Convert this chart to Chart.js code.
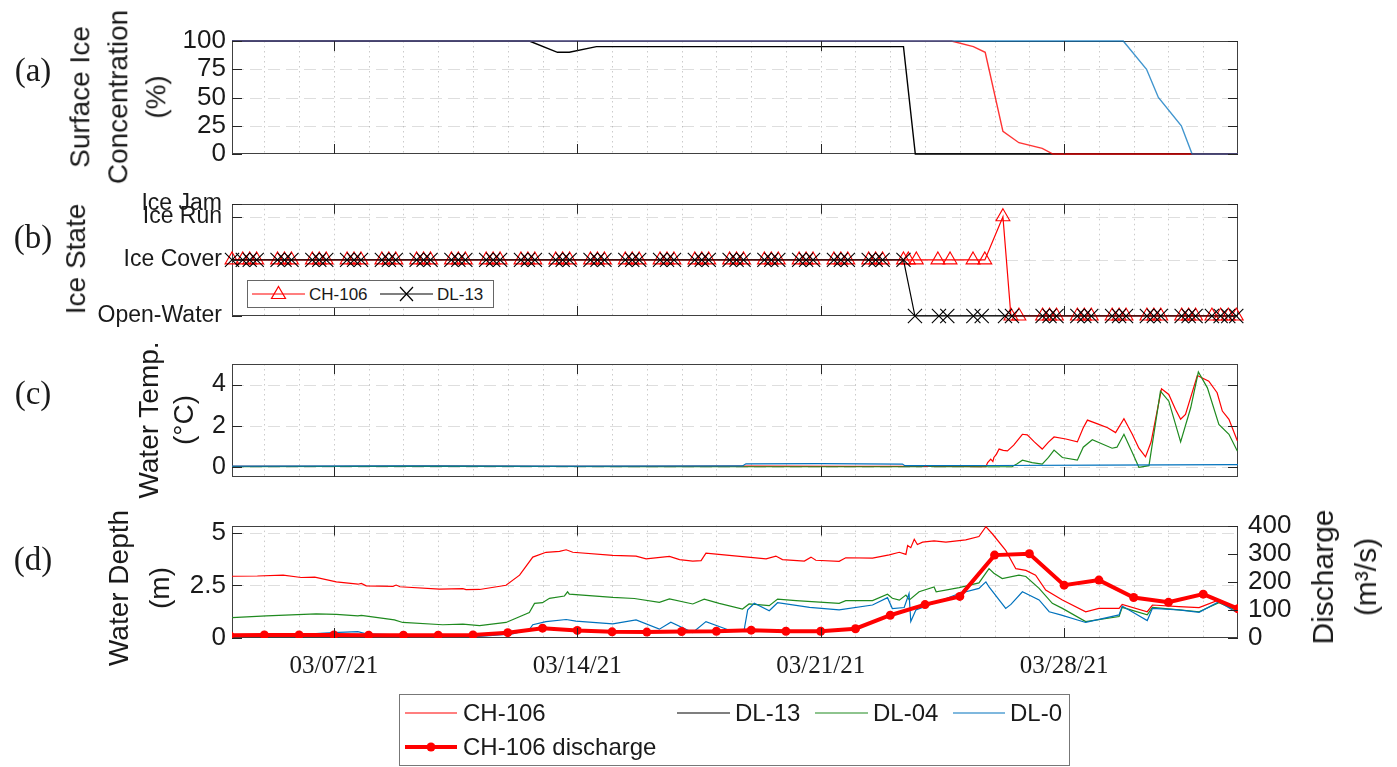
<!DOCTYPE html>
<html>
<head>
<meta charset="utf-8">
<script src="https://cdn.jsdelivr.net/npm/chart.js@4.4.1/dist/chart.umd.min.js"></script>
<style>
  html, body { margin: 0; padding: 0; background: #fff; }
  #wrap { position: relative; width: 1397px; height: 767px; overflow: hidden; background: #fff;
          font-family: 'Liberation Sans', Arial, Helvetica, sans-serif; color: #1a1a1a; }
  canvas { position: absolute; left: 0; }
  .t { position: absolute; white-space: nowrap; }
  .rot { transform: translate(-50%, -50%) rotate(-90deg); text-align: center; }
  .lab { font-family: 'Liberation Serif', 'Times New Roman', serif; font-size: 33px; transform: translate(-50%, -50%); }
  .lg { transform: translateY(-50%); line-height: 1; }
</style>
</head>
<body>
<div id="wrap">
  <canvas id="cA" width="1397" height="180" style="top:0px"></canvas>
  <canvas id="cB" width="1397" height="160" style="top:180px"></canvas>
  <canvas id="cC" width="1397" height="160" style="top:340px"></canvas>
  <canvas id="cD" width="1397" height="190" style="top:500px"></canvas>

  <!-- panel letters -->
  <div class="t lab" style="left:33px;top:70px">(a)</div>
  <div class="t lab" style="left:33px;top:237px">(b)</div>
  <div class="t lab" style="left:33px;top:393px">(c)</div>
  <div class="t lab" style="left:33px;top:559px">(d)</div>

  <!-- axis titles -->
  <div class="t rot" style="left:118px;top:97px;font-size:28px;line-height:37.8px">Surface Ice<br>Concentration<br>(%)</div>
  <div class="t rot" style="left:76px;top:259px;font-size:28px;line-height:37.8px">Ice State</div>
  <div class="t rot" style="left:166px;top:420px;font-size:28px;line-height:35px">Water Temp.<br>(°C)</div>
  <div class="t rot" style="left:139px;top:588px;font-size:28px;line-height:41px">Water Depth<br>(m)</div>
  <div class="t rot" style="left:1344px;top:577px;font-size:30px;line-height:43px">Discharge<br>(m³/s)</div>

  <!-- legend inside panel (b) -->
  <div style="position:absolute;left:247px;top:280px;width:247px;height:28px;box-sizing:border-box;border:1px solid #666;background:#fff"></div>
  <!-- bottom legend box -->
  <div style="position:absolute;left:399px;top:694px;width:671px;height:72px;box-sizing:border-box;border:1px solid #777;background:#fff"></div>

  <svg width="1397" height="767" style="position:absolute;left:0;top:0;pointer-events:none">
    <line x1="252" y1="294" x2="305" y2="294" stroke="#ff0000" stroke-width="1.2"/>
    <polygon points="278.5,286.5 285.5,298.5 271.5,298.5" fill="none" stroke="#ff0000" stroke-width="1.2"/>
    <line x1="380" y1="294" x2="433" y2="294" stroke="#000" stroke-width="1.2"/>
    <path d="M400 287 L413 301 M413 287 L400 301" stroke="#000" stroke-width="1.2"/>
    <line x1="405" y1="713" x2="457" y2="713" stroke="#ff0000" stroke-width="1.2"/>
    <line x1="677" y1="713" x2="730" y2="713" stroke="#000" stroke-width="1.2"/>
    <line x1="815" y1="713" x2="868" y2="713" stroke="#1f8a1f" stroke-width="1.2"/>
    <line x1="953" y1="713" x2="1005" y2="713" stroke="#0072bd" stroke-width="1.2"/>
    <line x1="405" y1="747" x2="457" y2="747" stroke="#ff0000" stroke-width="4"/>
    <circle cx="431" cy="747" r="4.5" fill="#ff0000"/>
  </svg>
  <div class="t lg" style="left:309px;top:294px;font-size:17px">CH-106</div>
  <div class="t lg" style="left:437px;top:294px;font-size:17px">DL-13</div>

  <div class="t lg" style="left:463px;top:713px;font-size:24px">CH-106</div>
  <div class="t lg" style="left:735px;top:713px;font-size:24px">DL-13</div>
  <div class="t lg" style="left:873px;top:713px;font-size:24px">DL-04</div>
  <div class="t lg" style="left:1010px;top:713px;font-size:24px">DL-0</div>
  <div class="t lg" style="left:463px;top:747px;font-size:24px">CH-106 discharge</div>
</div>

<script>
// ---------------- DATA (time in days since 03/04/21 00:00) ----------------
const majorDays   = [3, 10, 17, 24];
const majorLabels = ['03/07/21', '03/14/21', '03/21/21', '03/28/21'];

// (a) surface ice concentration (%)
const concDayDL13  = [0.07, 8.62, 9.43, 9.77, 10.55, 19.38, 19.72, 29];
const concDL13     = [100, 100, 90, 90, 95, 95, 0, 0];
const concDayCH106 = [0.07, 20.76, 21.39, 21.73, 22.24, 22.70, 23.37, 23.68, 29];
const concCH106    = [100, 100, 95, 90, 20, 10, 5, 0, 0];
const concDayDL0   = [0.07, 25.70, 26.37, 26.71, 27.37, 27.68, 29];
const concDL0      = [100, 100, 75, 50, 25, 0, 0];
const concTicks    = [0, 25, 50, 75, 100];

// (b) ice state (index into iceStateNames)
const iceStateNames  = ['Open-Water', 'Ice Cover', 'Ice Run', 'Ice Jam'];
const iceStateLevels = [0, 1, 1.77, 2];
const iceDayCH106 = [0.07,0.38,0.58,0.78,1.38,1.58,1.78,2.38,2.58,2.78,3.38,3.58,3.78,4.38,4.58,4.78,
  5.38,5.58,5.78,6.38,6.58,6.78,7.38,7.58,7.78,8.38,8.58,8.78,9.38,9.58,9.78,10.38,10.58,10.78,
  11.38,11.58,11.78,12.38,12.58,12.78,13.38,13.58,13.78,14.38,14.58,14.78,15.38,15.58,15.78,
  16.38,16.58,16.78,17.38,17.58,17.78,18.38,18.58,18.78,
  19.38,19.52,19.75,20.37,20.72,21.38,21.72,22.24,22.47,22.70,
  23.38,23.58,23.78,24.38,24.58,24.78,25.38,25.58,25.78,26.38,26.58,26.78,27.38,27.58,27.78,
  28.25,28.50,28.72,28.95];
const iceCH106 = [1,1,1,1,1,1,1,1,1,1, 1,1,1,1,1,1,1,1,1,1, 1,1,1,1,1,1,1,1,1,1,
  1,1,1,1,1,1,1,1,1,1, 1,1,1,1,1,1,1,1,1,1, 1,1,1,1,1,1,1,1,
  1,1,1,1,1,1,1,2,0,0,
  0,0,0,0,0,0,0,0,0,0,0,0,0,0,0, 0,0,0,0];
const iceDayDL13 = [0.07,0.38,0.58,0.78,1.38,1.58,1.78,2.38,2.58,2.78,3.38,3.58,3.78,4.38,4.58,4.78,
  5.38,5.58,5.78,6.38,6.58,6.78,7.38,7.58,7.78,8.38,8.58,8.78,9.38,9.58,9.78,10.38,10.58,10.78,
  11.38,11.58,11.78,12.38,12.58,12.78,13.38,13.58,13.78,14.38,14.58,14.78,15.38,15.58,15.78,
  16.38,16.58,16.78,17.38,17.58,17.78,18.38,18.58,18.78,
  19.38,19.71,20.40,20.64,21.39,21.63,22.30,22.50,
  23.38,23.58,23.78,24.38,24.58,24.78,25.38,25.58,25.78,26.38,26.58,26.78,27.38,27.58,27.78,
  28.25,28.50,28.72,28.95];
const iceDL13 = [1,1,1,1,1,1,1,1,1,1, 1,1,1,1,1,1,1,1,1,1, 1,1,1,1,1,1,1,1,1,1,
  1,1,1,1,1,1,1,1,1,1, 1,1,1,1,1,1,1,1,1,1, 1,1,1,1,1,1,1,1,
  1,0,0,0,0,0,0,0,
  0,0,0,0,0,0,0,0,0,0,0,0,0,0,0, 0,0,0,0];

// (c) water temperature (°C)
const tempDayCH106 = [0.07,3,6,9,12,15,18,21,21.75,21.80,21.89,21.95,21.98,22.05,22.13,22.25,22.37,22.55,22.80,22.94,
  23.15,23.37,23.55,23.71,24.05,24.38,24.55,24.67,25.00,25.25,25.48,25.72,25.96,26.15,26.34,26.50,26.80,27.01,
  27.20,27.35,27.49,27.83,28.16,28.40,28.55,28.74,28.98];
const tempCH106 = [0.02,0.02,0.03,0.02,0.02,0.03,0.02,0.02,0.00,0.20,0.37,0.25,0.45,0.60,0.86,0.80,0.77,1.05,1.58,1.55,
  1.20,0.86,1.20,1.45,1.35,1.21,1.90,2.27,2.06,1.90,1.66,2.34,1.58,0.90,0.48,1.20,3.79,3.52,
  2.80,2.31,2.55,4.44,4.16,3.60,2.71,2.31,1.26];
const tempDayDL04 = [0.07,3,6,9,12,15,18,19.9,20.0,20.2,21,22.2,22.50,22.65,22.80,23.08,23.37,23.55,23.71,23.95,
  24.38,24.55,24.81,25.38,25.52,25.72,25.96,26.15,26.44,26.77,27.01,27.35,27.64,27.86,28.12,28.45,28.74,28.98];
const tempDL04 = [0.00,0.01,0.02,0.01,0.00,0.00,0.00,0.00,0.06,0.00,0.00,0.00,0.00,0.15,0.32,0.20,0.13,0.45,0.81,0.45,
  0.32,0.95,1.31,0.90,0.95,1.58,0.69,-0.03,0.05,3.68,3.19,1.21,2.87,4.61,3.84,2.06,1.58,0.77];
const tempDayDL0 = [0.07,5,10,14.75,14.85,17,19.35,19.42,22,25,29];
const tempDL0    = [0.03,0.04,0.03,0.04,0.14,0.15,0.13,0.05,0.06,0.08,0.10];
const tempTicks  = [0, 2, 4];

// (d) water depth (m)
const depthDayCH106 = [0.07,0.8,1.54,2.06,2.45,3.07,3.69,3.79,3.93,4.70,4.79,4.9,6.04,6.71,6.8,7.19,7.95,8.34,8.72,9.10,
  9.49,9.68,9.87,11.02,11.69,11.98,12.65,12.94,13.32,13.56,13.70,14.37,15.43,15.71,15.90,16.53,16.72,16.86,17.53,17.72,
  18.49,18.97,19.26,19.45,19.50,19.59,19.69,19.78,19.93,20.26,20.60,21.17,21.55,21.75,21.94,22.32,22.61,22.90,23.18,23.47,
  23.95,24.62,25.00,25.58,25.67,26.39,26.54,27.30,27.88,28.45,28.93];
const depthCH106 = [2.94,2.95,2.99,2.88,2.90,2.67,2.56,2.60,2.48,2.46,2.52,2.44,2.33,2.35,2.30,2.31,2.51,2.99,3.85,4.08,
  4.12,4.20,4.08,3.93,3.90,3.77,3.88,3.73,3.66,3.68,4.04,3.93,3.77,3.90,3.73,3.66,3.85,3.70,3.65,3.82,
  3.80,3.96,4.08,3.98,4.40,4.30,4.70,4.45,4.56,4.62,4.56,4.67,4.83,5.30,4.95,4.17,3.30,3.22,2.99,2.28,
  1.81,1.25,1.41,1.41,1.60,1.25,1.57,1.49,1.45,1.81,1.41];
const depthDayDL04 = [0.07,1.06,2.49,3.07,3.69,3.79,4.74,4.98,6.13,6.71,7.19,7.95,8.62,8.77,9.00,9.20,9.63,9.72,9.77,11.02,
  11.64,12.36,12.65,13.32,13.65,14.08,14.75,14.94,15.52,15.76,16.29,17.53,17.72,18.49,18.92,19.06,19.26,19.45,19.55,19.83,
  20.26,20.32,20.98,21.55,21.84,21.98,22.22,22.70,22.90,23.28,23.66,23.95,24.62,25.58,25.67,26.39,26.54,27.30,27.88,28.45,28.93];
const depthDL04 = [0.97,1.05,1.15,1.12,1.05,1.08,0.86,0.74,0.63,0.66,0.59,0.74,1.21,1.65,1.68,1.89,2.00,2.20,2.09,1.93,
  1.88,1.70,1.86,1.62,1.85,1.65,1.38,1.62,1.54,1.85,1.78,1.65,1.78,1.78,2.08,1.89,1.80,2.04,1.81,2.20,
  2.43,2.20,2.40,2.62,3.30,3.08,2.83,2.99,2.93,2.36,1.65,1.41,0.78,1.02,1.46,1.10,1.46,1.34,1.25,1.68,1.34];
const depthDayDL0 = [0.07,1.5,2.97,3.69,3.93,5.5,7.19,8.14,8.62,8.72,9.10,9.68,9.96,11.02,11.69,12.36,12.69,13.32,13.70,14.47,
  14.80,14.90,15.09,15.52,15.76,16.68,17.53,18.49,18.92,19.06,19.40,19.54,19.59,19.74,20.12,20.98,21.55,21.75,21.84,22.32,
  22.47,22.80,23.28,23.57,23.90,24.62,25.58,25.67,26.39,26.54,27.30,27.88,28.45,28.93];
const depthDL0 = [0.08,0.12,0.26,0.30,0.20,0.12,0.08,0.20,0.40,0.63,0.78,0.88,0.80,0.67,0.86,0.42,0.75,0.26,0.78,0.31,
  0.40,1.34,1.65,1.30,1.68,1.46,1.34,1.57,1.92,1.40,1.45,2.12,0.78,1.34,1.57,2.12,2.36,2.67,2.43,1.41,
  1.60,2.20,1.81,1.25,1.10,0.74,1.10,1.52,0.83,1.41,1.34,1.22,1.73,1.25];
const depthTicks = [0, 2.5, 5];

// (d) CH-106 discharge (m3/s), daily
const dischargeDay = [0,1,2,3,4,5,6,7,8,9,10,11,12,13,14,15,16,17,18,19,20,21,22,23,24,25,26,27,28,29];
const discharge    = [10,11,11,11,10,10,10,11,19,35,27,22,21,23,24,28,24,24,33,81,119,148,295,300,188,206,144,127,156,104];
const dischargeTicks = [0, 100, 200, 300, 400];

// ---------------- CHARTS ----------------
const FONT  = "'Liberation Sans', Arial, Helvetica, sans-serif";
const SERIF = "'Liberation Serif', 'Times New Roman', serif";
const RED = '#ff0000', BLACK = '#000000', GREEN = '#1f8a1f', BLUE = '#0072bd';
const X_MIN = 0.07, X_MAX = 29;

Chart.defaults.font.family = FONT;
Chart.defaults.color = '#1a1a1a';
Chart.defaults.animation = false;
Chart.defaults.events = [];

const pts = (xs, ys) => xs.map((x, i) => ({ x: x, y: ys[i] }));

const frame = {
  id: 'frame',
  beforeDatasetsDraw(chart, args, o) {
    const { ctx, chartArea: ca, scales } = chart;
    const xs = scales.x, ys = scales.y;
    ctx.save();
    ctx.lineWidth = 1;
    ctx.strokeStyle = 'rgba(140,140,140,0.45)';
    ctx.setLineDash([1.5, 3.5]);
    for (let d = Math.ceil(xs.min); d < xs.max; d++) {
      const px = Math.round(xs.getPixelForValue(d)) + 0.5;
      ctx.beginPath(); ctx.moveTo(px, ca.top); ctx.lineTo(px, ca.bottom); ctx.stroke();
    }
    ctx.strokeStyle = 'rgba(160,160,160,0.35)';
    ctx.setLineDash([12, 6]);
    ys.ticks.forEach(t => {
      const py = Math.round(ys.getPixelForValue(t.value)) + 0.5;
      if (py < ca.top + 1 || py > ca.bottom - 1) return;
      ctx.beginPath(); ctx.moveTo(ca.left, py); ctx.lineTo(ca.right, py); ctx.stroke();
    });
    ctx.setLineDash([]);
    ctx.strokeStyle = '#404040';
    ctx.strokeRect(Math.round(ca.left) + 0.5, Math.round(ca.top) + 0.5,
                   Math.round(ca.right - ca.left) - 1, Math.round(ca.bottom - ca.top) - 1);
    ctx.restore();
  },
  afterDatasetsDraw(chart, args, o) {
    const { ctx, chartArea: ca, scales } = chart;
    const L = 10;
    ctx.save();
    ctx.setLineDash([]);
    ctx.strokeStyle = '#262626';
    ctx.lineWidth = 1;
    const seg = (x1, y1, x2, y2) => { ctx.beginPath(); ctx.moveTo(x1, y1); ctx.lineTo(x2, y2); ctx.stroke(); };
    majorDays.forEach(d => {
      const px = Math.round(scales.x.getPixelForValue(d)) + 0.5;
      seg(px, ca.bottom, px, ca.bottom - L);
      seg(px, ca.top, px, ca.top + L);
    });
    const ys = scales.y;
    ys.ticks.forEach(t => {
      const py = Math.round(ys.getPixelForValue(t.value)) + 0.5;
      seg(ca.left, py, ca.left + L, py);
      if (!o.right) seg(ca.right, py, ca.right - L, py);
    });
    if (o.right) {
      const yr = scales[o.right];
      yr.ticks.forEach(t => {
        const py = Math.round(yr.getPixelForValue(t.value)) + 0.5;
        seg(ca.right, py, ca.right - L, py);
      });
    }
    ctx.restore();
  }
};

function xAxis(show) {
  return {
    type: 'linear', min: X_MIN, max: X_MAX, display: show,
    grid: { display: false, drawTicks: false }, border: { display: false },
    afterBuildTicks: s => { s.ticks = majorDays.map(v => ({ value: v })); },
    ticks: { autoSkip: false, maxRotation: 0, padding: 13, color: '#1a1a1a',
             font: { family: SERIF, size: 25 },
             callback: v => majorLabels[majorDays.indexOf(v)] },
    afterFit: s => { s.height = show ? 40 : 0; }
  };
}
function yAxis(min, max, tickVals, fontSize, pad, labelFn, pos, width) {
  return {
    type: 'linear', position: pos || 'left', min: min, max: max,
    grid: { display: false, drawTicks: false }, border: { display: false },
    afterBuildTicks: s => { s.ticks = tickVals.map(v => ({ value: v })); },
    ticks: { autoSkip: false, padding: pad, color: '#1a1a1a', font: { size: fontSize },
             callback: labelFn || (v => String(v)) },
    afterFit: s => { s.width = width || 232; }
  };
}
function opts(pad, scales, frameOpts) {
  return {
    responsive: false, maintainAspectRatio: false, animation: false,
    layout: { padding: pad },
    plugins: { legend: { display: false }, tooltip: { enabled: false }, frame: frameOpts || {} },
    elements: { point: { radius: 0 }, line: { tension: 0, borderWidth: 1.2 } },
    scales: scales
  };
}
const line = (label, xs, ys, color, order, extra) => Object.assign({
  label: label, data: pts(xs, ys), borderColor: color, backgroundColor: color,
  borderWidth: 1.2, pointRadius: 0, fill: false, order: order
}, extra || {});

// (a)
new Chart(document.getElementById('cA'), {
  type: 'line',
  data: { datasets: [
    line('DL-0', concDayDL0, concDL0, 'rgba(0,114,189,0.75)', 0, { clip: false, borderWidth: 1.4 }),
    line('CH-106', concDayCH106, concCH106, 'rgba(255,0,0,0.8)', 1, { clip: false, borderWidth: 1.4 }),
    line('DL-13', concDayDL13, concDL13, BLACK, 2, { clip: false, borderWidth: 1.4 })
  ] },
  options: opts({ top: 41, bottom: 26, left: 0, right: 159 },
    { x: xAxis(false), y: yAxis(0, 100, concTicks, 26, 6) }),
  plugins: [frame]
});

// (b)
new Chart(document.getElementById('cB'), {
  type: 'line',
  data: { datasets: [
    line('DL-13', iceDayDL13, iceDL13.map(i => iceStateLevels[i]), BLACK, 0,
      { pointStyle: 'crossRot', pointRadius: 10, pointBorderColor: BLACK, pointBorderWidth: 1.1, clip: false }),
    line('CH-106', iceDayCH106, iceCH106.map(i => iceStateLevels[i]), RED, 1,
      { pointStyle: 'triangle', pointRadius: 8, pointBorderColor: RED, pointBackgroundColor: 'rgba(0,0,0,0)',
        pointBorderWidth: 1.1, clip: false })
  ] },
  options: opts({ top: 23, bottom: 24, left: 0, right: 159 },
    { x: xAxis(false),
      y: yAxis(0, 2, iceStateLevels, 23, 10, v => iceStateNames[iceStateLevels.indexOf(v)]) }),
  plugins: [frame]
});

// (c)
new Chart(document.getElementById('cC'), {
  type: 'line',
  data: { datasets: [
    line('DL-0', tempDayDL0, tempDL0, BLUE, 0),
    line('DL-04', tempDayDL04, tempDL04, GREEN, 1),
    line('CH-106', tempDayCH106, tempCH106, RED, 2)
  ] },
  options: opts({ top: 24, bottom: 23, left: 0, right: 159 },
    { x: xAxis(false), y: yAxis(-0.5, 5, tempTicks, 25, 6) }),
  plugins: [frame]
});

// (d)
new Chart(document.getElementById('cD'), {
  type: 'line',
  data: { datasets: [
    line('CH-106 discharge', dischargeDay, discharge, RED, 0,
      { yAxisID: 'y1', borderWidth: 4, pointRadius: 4.5, pointBackgroundColor: RED, pointBorderColor: RED, pointBorderWidth: 0 }),
    line('DL-0', depthDayDL0, depthDL0, BLUE, 1),
    line('DL-04', depthDayDL04, depthDL04, GREEN, 2),
    line('CH-106', depthDayCH106, depthCH106, RED, 3)
  ] },
  options: opts({ top: 24, bottom: 12, left: 0, right: 0 },
    { x: xAxis(true),
      y: yAxis(0, 5.35, depthTicks, 26, 6),
      y1: yAxis(0, 400, dischargeTicks, 26, 10, null, 'right', 159) },
    { right: 'y1' }),
  plugins: [frame]
});
</script>
</body>
</html>
